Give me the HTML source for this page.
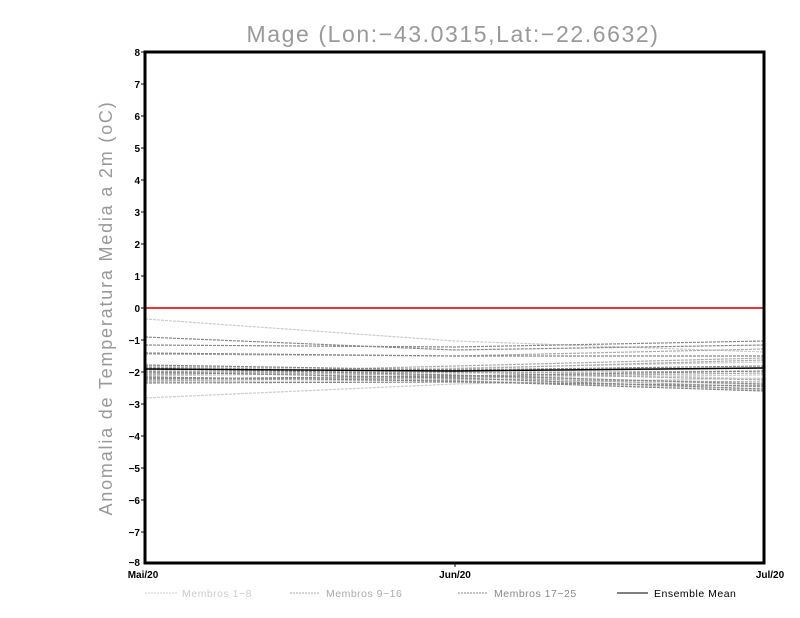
<!DOCTYPE html>
<html><head><meta charset="utf-8"><style>body{margin:0;background:#fff}svg{display:block}</style></head>
<body>
<svg width="800" height="618" viewBox="0 0 800 618" xmlns="http://www.w3.org/2000/svg" font-family="Liberation Sans, sans-serif">
<rect width="800" height="618" fill="#fff"/>
<text x="453" y="42" text-anchor="middle" font-size="23" letter-spacing="1.6" fill="#999">Mage (Lon:−43.0315,Lat:−22.6632)</text>
<text transform="translate(112,308) rotate(-90)" text-anchor="middle" font-size="18" letter-spacing="1.8" fill="#999">Anomalia de Temperatura Media a 2m (oC)</text>
<g stroke-width="1.2" fill="none" stroke-dasharray="3,1">
<g stroke="#cccccc">
<polyline points="145,319 455,341 764,352"/>
<polyline points="145,398 455,384 764,378"/>
<polyline points="145,370 455,375 764,385"/>
<polyline points="145,376 455,372 764,368"/>
<polyline points="145,380 455,378 764,375"/>
<polyline points="145,366 455,370 764,379"/>
<polyline points="145,373 455,368 764,362"/>
<polyline points="145,382 455,380 764,390"/>
</g>
<g stroke="#aaaaaa">
<polyline points="145,354 455,356 764,349"/>
<polyline points="145,367 455,372 764,380"/>
<polyline points="145,371 455,376 764,387"/>
<polyline points="145,375 455,369 764,360"/>
<polyline points="145,378 455,379 764,382"/>
<polyline points="145,369 455,373 764,371"/>
<polyline points="145,381 455,377 764,373"/>
<polyline points="145,374 455,366 764,358"/>
</g>
<g stroke="#888888">
<polyline points="145,337 455,350 764,345"/>
<polyline points="145,345 455,347 764,341"/>
<polyline points="145,353 455,356 764,356"/>
<polyline points="145,368 455,375 764,384"/>
<polyline points="145,372 455,378 764,389"/>
<polyline points="145,377 455,381 764,391"/>
<polyline points="145,365 455,370 764,366"/>
<polyline points="145,379 455,376 764,371"/>
<polyline points="145,383 455,382 764,386"/>
</g>
</g>
<polyline points="145,369 455,371 764,368" stroke="#000" stroke-width="1.4" fill="none"/>
<line x1="145" y1="308" x2="764" y2="308" stroke="#e33" stroke-width="2"/>
<rect x="145" y="52" width="619" height="511" fill="none" stroke="#000" stroke-width="3"/>
<g font-size="10" font-weight="bold" text-anchor="end" fill="#000">
<text x="140" y="56">8</text><text x="140" y="88">7</text><text x="140" y="120">6</text><text x="140" y="152">5</text>
<text x="140" y="184">4</text><text x="140" y="216">3</text><text x="140" y="248">2</text><text x="140" y="280">1</text>
<text x="140" y="312">0</text><text x="140" y="344">−1</text><text x="140" y="376">−2</text><text x="140" y="408">−3</text>
<text x="140" y="440">−4</text><text x="140" y="472">−5</text><text x="140" y="504">−6</text><text x="140" y="536">−7</text>
<text x="140" y="566">−8</text>
</g>
<g stroke="#000" stroke-width="1">
<line x1="141" y1="52" x2="145" y2="52"/><line x1="141" y1="84" x2="145" y2="84"/><line x1="141" y1="116" x2="145" y2="116"/><line x1="141" y1="148" x2="145" y2="148"/><line x1="141" y1="180" x2="145" y2="180"/><line x1="141" y1="212" x2="145" y2="212"/><line x1="141" y1="244" x2="145" y2="244"/><line x1="141" y1="276" x2="145" y2="276"/><line x1="141" y1="308" x2="145" y2="308"/><line x1="141" y1="340" x2="145" y2="340"/><line x1="141" y1="372" x2="145" y2="372"/><line x1="141" y1="404" x2="145" y2="404"/><line x1="141" y1="436" x2="145" y2="436"/><line x1="141" y1="468" x2="145" y2="468"/><line x1="141" y1="500" x2="145" y2="500"/><line x1="141" y1="532" x2="145" y2="532"/>
<line x1="455" y1="563" x2="455" y2="567"/>
</g>
<g font-size="10" font-weight="bold" text-anchor="middle" fill="#000">
<text x="143" y="578">Mai/20</text><text x="455" y="578">Jun/20</text><text x="770" y="578">Jul/20</text>
</g>
<g font-size="10.5" fill="#000" letter-spacing="0.5">
<line x1="145" y1="593" x2="177" y2="593" stroke="#ccc" stroke-dasharray="2,1"/>
<text x="182" y="597" fill="#ccc">Membros 1−8</text>
<line x1="290" y1="593" x2="320" y2="593" stroke="#aaa" stroke-dasharray="2,1"/>
<text x="326" y="597" fill="#aaa">Membros 9−16</text>
<line x1="458" y1="593" x2="488" y2="593" stroke="#888" stroke-dasharray="2,1"/>
<text x="494" y="597" fill="#888">Membros 17−25</text>
<line x1="617" y1="593" x2="648" y2="593" stroke="#000"/>
<text x="654" y="597">Ensemble Mean</text>
</g>
</svg>
</body></html>
